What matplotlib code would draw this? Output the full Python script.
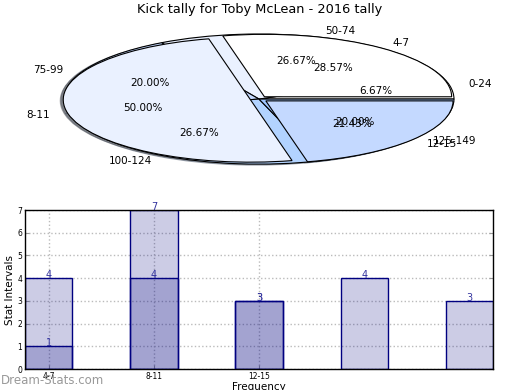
import matplotlib
matplotlib.use("Agg")
import matplotlib.pyplot as plt

title = "Kick tally for Toby McLean - 2016 tally"

# pie 1: distance buckets
dist_labels = ["0-24", "50-74", "75-99", "100-124", "125-149"]
dist_counts = [1, 4, 3, 4, 3]
# pie 2: kick intervals
int_labels = ["4-7", "8-11", "12-15"]
int_counts = [4, 7, 3]

# bar chart (two overlapping translucent series)
bar_ticks = ["4-7", "8-11", "12-15"]
bars_a = int_counts
bars_b = dist_counts

pie_colors = ["#ffffff", "#eaf1ff", "#c4d9ff", "#b2d3ff", "#9fc6ff"]
navy = "#000080"

fig = plt.figure(figsize=(5.2, 3.9), dpi=100)
fig.text(0.499, 1 - 10 / 390, title, ha="center", va="center", fontsize=9.3)

# --- pie ---
ax = fig.add_axes([0.0293, 0.5375, 0.9375, 0.417])
wp = dict(edgecolor="black", linewidth=0.8)
tp = dict(fontsize=7.5)
shad = dict(ox=-0.011, oy=-0.011, shade=0.6)
ax.pie(dist_counts, labels=dist_labels, colors=pie_colors, autopct="%.2f%%",
       pctdistance=0.61, shadow=shad, wedgeprops=wp, textprops=tp)
ax.pie(int_counts, colors=pie_colors, explode=[0.045] * 3, radius=0.96,
       shadow=shad, wedgeprops=wp)
# texts of pie 2 sit where an unexploded pie would put them
ax.pie(int_counts, labels=int_labels, autopct="%.2f%%", pctdistance=0.61,
       wedgeprops=dict(visible=False), textprops=tp)
ax.set_aspect("auto")
ax.set_xlim(-1.25, 1.25); ax.set_ylim(-1.25, 1.25)

# --- bars ---
bx = fig.add_axes([0.0481, 0.0538, 0.9, 0.4077])
xa = list(range(len(bars_a)))
xb = list(range(len(bars_b)))
fc = (0, 0, 0.5, 0.2)
bx.bar(xa, bars_a, width=0.45, facecolor=fc, edgecolor=navy, linewidth=1, zorder=2)
bx.bar(xb, bars_b, width=0.45, facecolor=fc, edgecolor=navy, linewidth=1, zorder=2)
for x, v in zip(xa, bars_a):
    bx.text(x, v, str(v), ha="center", va="baseline", color="#33339f", fontsize=7, clip_on=False)
for x, v in zip(xb, bars_b):
    bx.text(x, v, str(v), ha="center", va="baseline", color="#33339f", fontsize=7, clip_on=False)
bx.set_xlim(-0.225, 4.225); bx.set_ylim(0, 7)
bx.set_xticks(range(len(bar_ticks))); bx.set_xticklabels(bar_ticks)
bx.set_yticks(range(8))
bx.grid(True, linestyle=":", color="#bbbbbb", linewidth=1, zorder=0)
bx.set_axisbelow(True)
bx.tick_params(direction="in", length=3, color="#999999", labelsize=5.5, pad=2, right=True)
bx.set_ylabel("Stat Intervals", fontsize=7.5, labelpad=2)
bx.set_xlabel("Frequency", fontsize=7.5, labelpad=1)
for s in bx.spines.values():
    s.set_linewidth(1)

fig.text(0.002, 1 - 380 / 390, "Dream-Stats.com", color="#999999", fontsize=8.5,
         ha="left", va="center")

fig.savefig("out.png", dpi=100)
